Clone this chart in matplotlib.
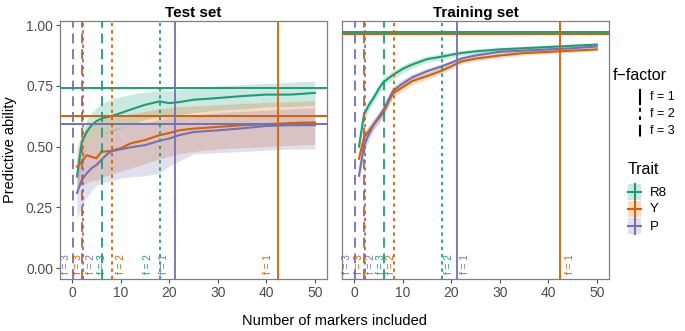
import numpy as np
import matplotlib
matplotlib.use("Agg")
import matplotlib.pyplot as plt
from matplotlib.patches import Rectangle

plt.rcParams['font.family'] = ['Liberation Sans', 'DejaVu Sans']

# ---------------- data ----------------
traits = ["R8", "Y", "P"]
colors = {"R8": "#1B9E77", "Y": "#D95F02", "P": "#7570B3"}
panels = ["Test set", "Training set"]

x_markers = [1, 2, 3, 4, 5, 6, 7, 8, 10, 12, 15, 18, 20, 22, 25, 30, 35, 40, 45, 50]

# Test set means / ribbons
test_R8 = [0.377, 0.52, 0.56, 0.588, 0.605, 0.615, 0.62, 0.625, 0.638, 0.652, 0.672, 0.686, 0.679, 0.683, 0.693, 0.70, 0.708, 0.714, 0.714, 0.721]
test_R8_lo = [0.30, 0.45, 0.50, 0.52, 0.54, 0.55, 0.555, 0.56, 0.575, 0.59, 0.61, 0.625, 0.625, 0.63, 0.64, 0.65, 0.655, 0.665, 0.665, 0.67]
test_R8_hi = [0.45, 0.56, 0.61, 0.64, 0.66, 0.675, 0.685, 0.695, 0.705, 0.715, 0.725, 0.73, 0.73, 0.735, 0.74, 0.75, 0.755, 0.76, 0.765, 0.77]

test_Y = [0.418, 0.438, 0.465, 0.458, 0.452, 0.479, 0.48, 0.483, 0.493, 0.513, 0.527, 0.547, 0.556, 0.567, 0.574, 0.581, 0.588, 0.592, 0.597, 0.60]
test_Y_lo = [0.33, 0.34, 0.35, 0.36, 0.36, 0.37, 0.38, 0.385, 0.40, 0.41, 0.43, 0.45, 0.46, 0.47, 0.48, 0.49, 0.495, 0.50, 0.505, 0.51]
test_Y_hi = [0.50, 0.55, 0.58, 0.60, 0.60, 0.61, 0.615, 0.62, 0.625, 0.635, 0.645, 0.655, 0.66, 0.665, 0.668, 0.672, 0.678, 0.682, 0.685, 0.69]

test_P = [0.309, 0.363, 0.39, 0.411, 0.424, 0.445, 0.465, 0.48, 0.489, 0.497, 0.506, 0.524, 0.533, 0.547, 0.56, 0.567, 0.575, 0.585, 0.588, 0.588]
test_P_lo = [0.20, 0.26, 0.29, 0.32, 0.34, 0.35, 0.355, 0.36, 0.37, 0.375, 0.38, 0.39, 0.42, 0.44, 0.47, 0.475, 0.48, 0.485, 0.49, 0.49]
test_P_hi = [0.42, 0.47, 0.50, 0.52, 0.54, 0.55, 0.56, 0.57, 0.58, 0.59, 0.60, 0.61, 0.62, 0.625, 0.63, 0.64, 0.645, 0.65, 0.655, 0.66]

# Training set means / ribbon half widths
train_R8 = [0.50, 0.63, 0.67, 0.70, 0.735, 0.765, 0.78, 0.795, 0.82, 0.838, 0.86, 0.87, 0.878, 0.885, 0.892, 0.90, 0.905, 0.91, 0.915, 0.92]
train_Y = [0.45, 0.535, 0.565, 0.59, 0.615, 0.64, 0.68, 0.72, 0.745, 0.77, 0.79, 0.812, 0.83, 0.85, 0.862, 0.875, 0.885, 0.89, 0.895, 0.90]
train_P = [0.38, 0.50, 0.55, 0.59, 0.62, 0.65, 0.69, 0.73, 0.76, 0.785, 0.81, 0.83, 0.845, 0.862, 0.875, 0.89, 0.895, 0.90, 0.905, 0.912]
train_sd_R8 = [0.03, 0.025, 0.022, 0.02, 0.02, 0.02, 0.018, 0.018, 0.016, 0.015, 0.013, 0.012, 0.011, 0.01, 0.01, 0.009, 0.008, 0.008, 0.007, 0.007]
train_sd_Y = [0.03, 0.025, 0.022, 0.02, 0.02, 0.02, 0.018, 0.018, 0.016, 0.015, 0.013, 0.012, 0.011, 0.01, 0.01, 0.009, 0.008, 0.008, 0.007, 0.007]
train_sd_P = [0.035, 0.03, 0.026, 0.024, 0.022, 0.021, 0.02, 0.019, 0.017, 0.015, 0.013, 0.012, 0.011, 0.01, 0.01, 0.009, 0.008, 0.008, 0.007, 0.007]

# horizontal reference (full model) lines
hline_test = {"R8": 0.74, "Y": 0.626, "P": 0.592}
hline_train = {"P": 0.962, "R8": 0.970, "Y": 0.962}

# number of markers for each f-factor (NaN = beyond range)
f_levels = ["f = 1", "f = 2", "f = 3"]
vline_R8 = [np.nan, 18.0, 6.1]
vline_Y = [42.5, 8.3, 2.0]
vline_P = [21.2, 2.3, 0.1]

# label x positions (per panel) for the vline annotations
label_x_test = {"R8": [np.nan, 15.7, 6.2], "Y": [40.4, 10.0, 1.2], "P": [19.0, 3.9, -1.3]}
label_x_train = {"R8": [np.nan, 19.5, 5.5], "Y": [44.4, 7.6, 1.0], "P": [22.9, 3.4, -1.4]}

x_ticks = [0, 10, 20, 30, 40, 50]
y_ticks = [0.00, 0.25, 0.50, 0.75, 1.00]

# ---------------- styling ----------------
linestyles = ["-", (0, (1.8, 2.2)), (0, (5.5, 3.2))]
W, H = 685, 331

fig = plt.figure(figsize=(W / 100, H / 100), dpi=100)

def px_axes(x0, y0, x1, y1):
    return fig.add_axes([x0 / W, 1 - y1 / H, (x1 - x0) / W, (y1 - y0) / H])

ax_test = px_axes(60, 21, 327, 279)
ax_train = px_axes(342, 21, 609, 279)

vlines = {"R8": vline_R8, "Y": vline_Y, "P": vline_P}
panel_data = {
    "Test set": {
        "mean": {"R8": test_R8, "Y": test_Y, "P": test_P},
        "lo": {"R8": test_R8_lo, "Y": test_Y_lo, "P": test_P_lo},
        "hi": {"R8": test_R8_hi, "Y": test_Y_hi, "P": test_P_hi},
        "hline": hline_test,
        "labx": label_x_test,
    },
    "Training set": {
        "mean": {"R8": train_R8, "Y": train_Y, "P": train_P},
        "lo": {t: list(np.array(m) - np.array(s)) for t, m, s in
               zip(traits, [train_R8, train_Y, train_P], [train_sd_R8, train_sd_Y, train_sd_P])},
        "hi": {t: list(np.array(m) + np.array(s)) for t, m, s in
               zip(traits, [train_R8, train_Y, train_P], [train_sd_R8, train_sd_Y, train_sd_P])},
        "hline": hline_train,
        "labx": label_x_train,
    },
}

for ax, name in zip([ax_test, ax_train], panels):
    d = panel_data[name]
    for t in traits:
        ax.fill_between(x_markers, d["lo"][t], d["hi"][t], color=colors[t], alpha=0.22, lw=0, zorder=1)
    for t in traits:
        ax.plot(x_markers, d["mean"][t], color=colors[t], lw=1.5, zorder=3)
    for t in d["hline"]:
        ax.axhline(d["hline"][t], color=colors[t], lw=1.4, zorder=4)
    for t in traits:
        for i, f in enumerate(f_levels):
            xv = vlines[t][i]
            if np.isnan(xv):
                continue
            ax.axvline(xv, color=colors[t], lw=1.3, linestyle=linestyles[i], zorder=4)
            lx = d["labx"][t][i]
            ax.text(lx, 0.015, f, rotation=90, color=colors[t], fontsize=7.2,
                    ha="center", va="center", zorder=5)
    ax.set_xlim(-2.5, 52.5)
    ax.set_ylim(-0.045, 1.017)
    ax.set_xticks(x_ticks)
    ax.set_yticks(y_ticks)
    ax.set_yticklabels([f"{v:.2f}" for v in y_ticks])
    ax.tick_params(colors="#4D4D4D", labelsize=10, length=3, width=0.8, pad=2)
    ax.tick_params(axis="x", labelcolor="#4D4D4D")
    for s in ax.spines.values():
        s.set_color("#7F7F7F")
        s.set_linewidth(0.9)
    ax.set_title(name, fontsize=11, fontweight="bold", pad=3)

ax_train.tick_params(axis="y", left=False, labelleft=False)

fig.text(10 / W, 1 - 150 / H, "Predictive ability", rotation=90, ha="center", va="center", fontsize=10.5)
fig.text(335 / W, 1 - 321 / H, "Number of markers included", ha="center", va="center", fontsize=10.5)

# ---------------- legends (drawn in pixel coords) ----------------
lg = fig.add_axes([0, 0, 1, 1], facecolor="none")
lg.set_xlim(0, W)
lg.set_ylim(H, 0)
lg.axis("off")

lg.text(613, 75, "f\u2212factor", fontsize=11.5, ha="left", va="center")
key_y = [(90, 104), (108, 122), (125, 139)]
label_y = [97, 114, 131]
for i, f in enumerate(f_levels):
    lg.plot([640, 640], key_y[i], color="black", lw=1.5, linestyle=linestyles[i])
    lg.text(650, label_y[i], f, fontsize=9, ha="left", va="center")

lg.text(628, 170, "Trait", fontsize=11.5, ha="left", va="center")
box_y = [183.5, 200.5, 217.5]
for i, t in enumerate(traits):
    y0 = box_y[i]
    lg.add_patch(Rectangle((628.5, y0), 12.5, 16, color=colors[t], alpha=0.22, lw=0))
    lg.plot([634.75, 634.75], [y0, y0 + 16], color=colors[t], lw=1.5)
    lg.plot([628.5, 641], [y0 + 8, y0 + 8], color=colors[t], lw=1.5)
    lg.text(650, y0 + 9, t, fontsize=9.5, ha="left", va="center")

fig.savefig("out.png", dpi=100)
